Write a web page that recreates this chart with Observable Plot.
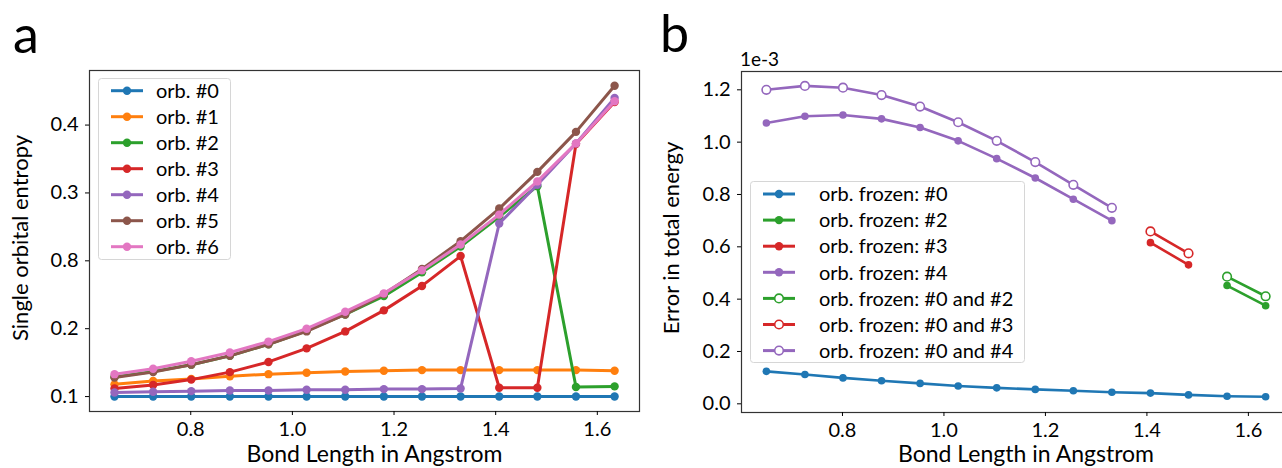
<!DOCTYPE html>
<html><head><meta charset="utf-8">
<script src="https://cdn.jsdelivr.net/npm/d3@7"></script>
<script src="https://cdn.jsdelivr.net/npm/@observablehq/plot@0.6"></script>
<style>
html,body{margin:0;padding:0;background:#fff;overflow:hidden}
#wrap{position:relative;width:1282px;height:468px;overflow:hidden;font-family:Lato,sans-serif;background:#fff}
#wrap svg{position:absolute;top:0}
</style></head><body><div id="wrap"></div>
<script>
// ---------- data ----------
const bondLength = [0.650, 0.726, 0.801, 0.877, 0.953, 1.028, 1.104, 1.180, 1.255, 1.331, 1.407, 1.482, 1.558, 1.634];
const xTicks = [0.8, 1.0, 1.2, 1.4, 1.6];

// panel a: single orbital entropy (read in the axis' own tick units)
const orbNames  = ["orb. #0", "orb. #1", "orb. #2", "orb. #3", "orb. #4", "orb. #5", "orb. #6"];
const orbColors = ["#1f77b4", "#ff7f0e", "#2ca02c", "#d62728", "#9467bd", "#8c564b", "#e377c2"];
const orb0 = [0.100, 0.100, 0.100, 0.100, 0.100, 0.100, 0.100, 0.100, 0.100, 0.100, 0.100, 0.100, 0.100, 0.100];
const orb1 = [0.118, 0.123, 0.126, 0.130, 0.133, 0.135, 0.137, 0.138, 0.139, 0.139, 0.139, 0.139, 0.139, 0.138];
const orb2 = [0.129, 0.137, 0.147, 0.160, 0.177, 0.197, 0.221, 0.248, 0.283, 0.321, 0.365, 0.410, 0.114, 0.115];
const orb3 = [0.112, 0.117, 0.125, 0.136, 0.151, 0.171, 0.196, 0.227, 0.263, 0.307, 0.113, 0.113, 0.472, 0.534];
const orb4 = [0.106, 0.107, 0.108, 0.109, 0.109, 0.110, 0.110, 0.111, 0.111, 0.112, 0.355, 0.412, 0.473, 0.540];
const orb5 = [0.128, 0.136, 0.147, 0.160, 0.177, 0.196, 0.221, 0.251, 0.288, 0.329, 0.377, 0.431, 0.490, 0.558];
const orb6 = [0.133, 0.141, 0.152, 0.165, 0.181, 0.200, 0.225, 0.252, 0.286, 0.324, 0.368, 0.417, 0.473, 0.535];
const entropySeries = [orb0, orb1, orb2, orb3, orb4, orb5, orb6];
const yTickValuesA = [0.1, 0.2, 0.3, 0.4, 0.5];
const yTickLabelsA = ["0.1", "0.2", "0.8", "0.3", "0.4"];

// panel b: error in total energy (x 1e-3)
const frozenNames = ["orb. frozen: #0", "orb. frozen: #2", "orb. frozen: #3", "orb. frozen: #4",
                     "orb. frozen: #0 and #2", "orb. frozen: #0 and #3", "orb. frozen: #0 and #4"];
const frozenColors = ["#1f77b4", "#2ca02c", "#d62728", "#9467bd", "#2ca02c", "#d62728", "#9467bd"];
const frozenOpen   = [false, false, false, false, true, true, true];
const frozen0   = [0.124, 0.112, 0.099, 0.088, 0.078, 0.068, 0.061, 0.055, 0.050, 0.044, 0.041, 0.034, 0.029, 0.027];
const frozen2   = [null, null, null, null, null, null, null, null, null, null, null, null, 0.452, 0.375];
const frozen3   = [null, null, null, null, null, null, null, null, null, null, 0.616, 0.531, null, null];
const frozen4   = [1.073, 1.099, 1.104, 1.089, 1.056, 1.005, 0.937, 0.863, 0.782, 0.700, null, null, null, null];
const frozen0_2 = [null, null, null, null, null, null, null, null, null, null, null, null, 0.486, 0.411];
const frozen0_3 = [null, null, null, null, null, null, null, null, null, null, 0.659, 0.575, null, null];
const frozen0_4 = [1.200, 1.215, 1.208, 1.180, 1.136, 1.076, 1.005, 0.924, 0.837, 0.749, null, null, null, null];
const errorSeries = [frozen0, frozen2, frozen3, frozen4, frozen0_2, frozen0_3, frozen0_4];
const yTicksB = [0.0, 0.2, 0.4, 0.6, 0.8, 1.0, 1.2];

// ---------- build ----------
const wrap = document.getElementById("wrap");
const style = {fontFamily: "Lato, sans-serif", fontSize: "20px", color: "#000", background: "transparent", overflow: "visible"};
const rows = (vals, name) => bondLength.map((x, i) => ({x, y: vals[i], name})).filter(d => d.y != null);

// Panel a
const labA = new Map(yTickValuesA.map((v, i) => [v, yTickLabelsA[i]]));
const marksA = [];
entropySeries.forEach((vals, k) => {
  const data = rows(vals, orbNames[k]);
  marksA.push(Plot.line(data, {x: "x", y: "y", stroke: orbColors[k], strokeWidth: 3}));
  marksA.push(Plot.dot(data, {x: "x", y: "y", fill: orbColors[k], r: 4.2}));
});
const plotA = Plot.plot({
  width: 650, height: 468,
  marginLeft: 89, marginRight: 11, marginTop: 70, marginBottom: 57,
  style,
  x: {domain: [0.6008, 1.683]},
  y: {domain: [0.078, 0.5804]},
  marks: [
    ...marksA,
    Plot.frame({stroke: "#333", strokeWidth: 1.2}),
    Plot.axisX({ticks: xTicks, tickSize: 4, tickPadding: 6, tickFormat: d3.format(".1f"), label: null}),
    Plot.axisY({ticks: yTickValuesA, tickSize: 4, tickPadding: 7, tickFormat: d => labA.get(d), label: null})
  ]
});
plotA.style.left = "0px";
wrap.appendChild(plotA);

// Panel b
const marksB = [];
errorSeries.forEach((vals, k) => {
  const data = rows(vals, frozenNames[k]);
  marksB.push(Plot.line(data, {x: "x", y: "y", stroke: frozenColors[k], strokeWidth: 2.6}));
  if (frozenOpen[k]) marksB.push(Plot.dot(data, {x: "x", y: "y", fill: "white", stroke: frozenColors[k], strokeWidth: 1.6, r: 4.3}));
  else marksB.push(Plot.dot(data, {x: "x", y: "y", fill: frozenColors[k], r: 3.8}));
});
const plotB = Plot.plot({
  width: 660, height: 468,
  marginLeft: 101, marginRight: 10, marginTop: 71, marginBottom: 56,
  style,
  x: {domain: [0.601, 1.683]},
  y: {domain: [-0.0332, 1.27]},
  marks: [
    ...marksB,
    Plot.frame({stroke: "#333", strokeWidth: 1.2}),
    Plot.axisX({ticks: xTicks, tickSize: 4, tickPadding: 6, tickFormat: d3.format(".1f"), label: null}),
    Plot.axisY({ticks: yTicksB, tickSize: 4, tickPadding: 7, tickFormat: d3.format(".1f"), label: null})
  ]
});
plotB.style.left = "640px";
wrap.appendChild(plotB);

// ---------- overlay: titles, axis labels, legends ----------
const ov = d3.select(wrap).append("svg").attr("width", 1282).attr("height", 468)
  .style("left", "0px").style("font-family", "Lato, sans-serif").style("pointer-events", "none");
const txt = (x, y, s, size, anchor = "start", rot = 0) =>
  ov.append("text").attr("transform", `translate(${x},${y}) rotate(${rot})`)
    .attr("text-anchor", anchor).attr("font-size", size).attr("fill", "#000").text(s);

txt(13, 53, "a", 52);
txt(660, 52, "b", 52);
txt(374.5, 462, "Bond Length in Angstrom", 23, "middle");
txt(1026, 462, "Bond Length in Angstrom", 23, "middle");
txt(28, 238, "Single orbital entropy", 22, "middle", -90);
txt(679, 238, "Error in total energy", 22, "middle", -90);
txt(740, 66, "1e-3", 19);

function legend(x0, y0, w, h, names, colors, open, rowY0, step, hx0, tx) {
  ov.append("rect").attr("x", x0 + 0.5).attr("y", y0 + 0.5).attr("width", w).attr("height", h)
    .attr("rx", 3).attr("fill", "rgba(255,255,255,0.8)").attr("stroke", "#d6d6d6");
  names.forEach((n, i) => {
    const y = rowY0 + i * step;
    ov.append("line").attr("x1", hx0).attr("x2", hx0 + 32).attr("y1", y).attr("y2", y)
      .attr("stroke", colors[i]).attr("stroke-width", 3);
    if (open && open[i]) ov.append("circle").attr("cx", hx0 + 16).attr("cy", y).attr("r", 4.3)
      .attr("fill", "white").attr("stroke", colors[i]).attr("stroke-width", 1.6);
    else ov.append("circle").attr("cx", hx0 + 16).attr("cy", y).attr("r", 4.2).attr("fill", colors[i]);
    ov.append("text").attr("x", tx).attr("y", y).attr("dy", "0.36em").attr("font-size", 20)
      .attr("fill", "#000").text(n);
  });
}
legend(98, 78, 132, 181, orbNames, orbColors, null, 90.7, 26, 111, 156);
legend(750, 181, 274, 181, frozenNames, frozenColors, frozenOpen, 194, 26.1, 763, 819);
</script></body></html>
